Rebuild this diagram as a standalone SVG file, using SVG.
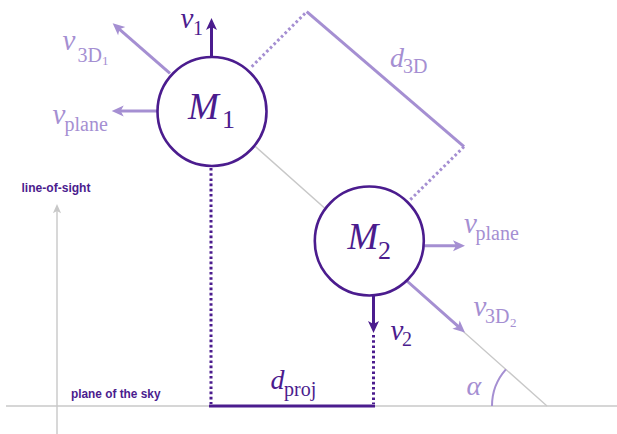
<svg xmlns="http://www.w3.org/2000/svg" width="617" height="434" viewBox="0 0 617 434">
<style>
.bg{fill:#ffffff}
.gray{stroke:#c8c8c8;stroke-width:1.4;fill:none}
.dk{stroke:#4b1c8e;stroke-width:3;fill:none}
.lt{stroke:#a58fd2;stroke-width:3;fill:none}
.dkdot{stroke:#4b1c8e;stroke-width:3;fill:none;stroke-dasharray:2.6 2.6}
.ltdot{stroke:#a58fd2;stroke-width:3;fill:none;stroke-dasharray:2.6 2.6}
.node{fill:#ffffff;stroke:#4b1c8e;stroke-width:2.6}
.it{font-family:"Liberation Serif","Times New Roman",serif;font-style:italic}
.rm{font-family:"Liberation Serif","Times New Roman",serif;font-style:normal}
.dkt{fill:#4b1c8e}
.ltt{fill:#a58fd2}
.lbl{font-family:"Liberation Sans",Arial,sans-serif;font-weight:bold;font-size:12px;fill:#4b1c8e}
</style>
<defs>
<marker id="ahd" markerUnits="userSpaceOnUse" markerWidth="20" markerHeight="20" orient="auto" refX="0" refY="0" viewBox="-6 -8 20 16" overflow="visible">
<path d="M-4,-5.5 L8,0 L-4,5.5 L-1,0 Z" fill="#4b1c8e"/>
</marker>
<marker id="ahl" markerUnits="userSpaceOnUse" markerWidth="20" markerHeight="20" orient="auto" refX="0" refY="0" viewBox="-6 -8 20 16" overflow="visible">
<path d="M-4,-5.5 L8,0 L-4,5.5 L-1,0 Z" fill="#a58fd2"/>
</marker>
<marker id="ahg" markerUnits="userSpaceOnUse" markerWidth="14" markerHeight="14" orient="auto" refX="0" refY="0" viewBox="-4 -5 12 10" overflow="visible">
<path d="M-2,-3.5 L6,0 L-2,3.5 L0,0 Z" fill="#c8c8c8"/>
</marker>
</defs>
<rect class="bg" x="0" y="0" width="617" height="434"/>

<g id="connectors">
<line class="gray" x1="6" y1="406" x2="617" y2="406"/>
<line class="gray" x1="57" y1="434" x2="57" y2="211" marker-end="url(#ahg)"/>
<line class="gray" x1="240" y1="132.8" x2="547" y2="406"/>
<path class="lt" style="stroke-width:2" d="M492,406 A55,55 0 0 1 505.9,369.4"/>
<line class="ltdot" x1="251.7" y1="66.7" x2="306.7" y2="11.7"/>
<line class="lt" x1="306.7" y1="11.7" x2="464" y2="146.7"/>
<line class="ltdot" x1="464" y1="146.7" x2="408.3" y2="201.7"/>
<line class="dkdot" x1="211" y1="168" x2="211" y2="404"/>
<line class="dkdot" x1="373.5" y1="335" x2="373.5" y2="404"/>
<line class="dk" x1="209" y1="406" x2="375" y2="406"/>
<line class="dk" x1="211.5" y1="57" x2="211.5" y2="26" marker-end="url(#ahd)"/>
<line class="lt" x1="170" y1="73.3" x2="118.7" y2="28.6" marker-end="url(#ahl)"/>
<line class="lt" x1="157" y1="111" x2="119.7" y2="111" marker-end="url(#ahl)"/>
<line class="lt" x1="424" y1="245.7" x2="457" y2="245.7" marker-end="url(#ahl)"/>
<line class="dk" x1="373.5" y1="295" x2="373.5" y2="325" marker-end="url(#ahd)"/>
<line class="lt" x1="407" y1="281" x2="459" y2="327.2" marker-end="url(#ahl)"/>
</g>

<g id="M1">
<circle class="node" cx="212" cy="111.5" r="54.5"/>
<text class="it dkt" x="188" y="118.5" font-size="37">M</text>
<text class="rm dkt" x="222" y="128" font-size="26">1</text>
</g>

<g id="M2">
<circle class="node" cx="369.3" cy="241" r="54.5"/>
<text class="it dkt" x="347.5" y="248.5" font-size="37">M</text>
<text class="rm dkt" x="378" y="258.5" font-size="26">2</text>
</g>

<g id="labels">
<text class="it dkt" x="180.5" y="28" font-size="29">v</text>
<text class="rm dkt" x="193" y="35" font-size="20">1</text>

<text class="it ltt" x="62.5" y="50" font-size="29">v</text>
<text class="rm ltt" x="77.5" y="62" font-size="20">3D</text>
<text class="rm ltt" x="102" y="65" font-size="13">1</text>

<text class="it ltt" x="52.5" y="124" font-size="29">v</text>
<text class="rm ltt" x="64.5" y="130.5" font-size="20">plane</text>

<text class="it ltt" x="390" y="66.7" font-size="28">d</text>
<text class="rm ltt" x="403" y="72.7" font-size="20">3D</text>

<text class="it ltt" x="464" y="233" font-size="29">v</text>
<text class="rm ltt" x="475.5" y="239.5" font-size="20">plane</text>

<text class="it ltt" x="473.5" y="316" font-size="29">v</text>
<text class="rm ltt" x="485" y="322.5" font-size="20">3D</text>
<text class="rm ltt" x="510" y="326.5" font-size="13">2</text>

<text class="it dkt" x="390.5" y="340" font-size="29">v</text>
<text class="rm dkt" x="402" y="346" font-size="20">2</text>

<text class="it dkt" x="270.5" y="389" font-size="28">d</text>
<text class="rm dkt" x="284" y="396" font-size="20">proj</text>

<text class="it ltt" x="466.5" y="395" font-size="28">α</text>

<text class="lbl" x="21.5" y="192" textLength="69" lengthAdjust="spacingAndGlyphs">line-of-sight</text>
<text class="lbl" x="71" y="397.5" textLength="89.5" lengthAdjust="spacingAndGlyphs">plane of the sky</text>
</g>
</svg>
